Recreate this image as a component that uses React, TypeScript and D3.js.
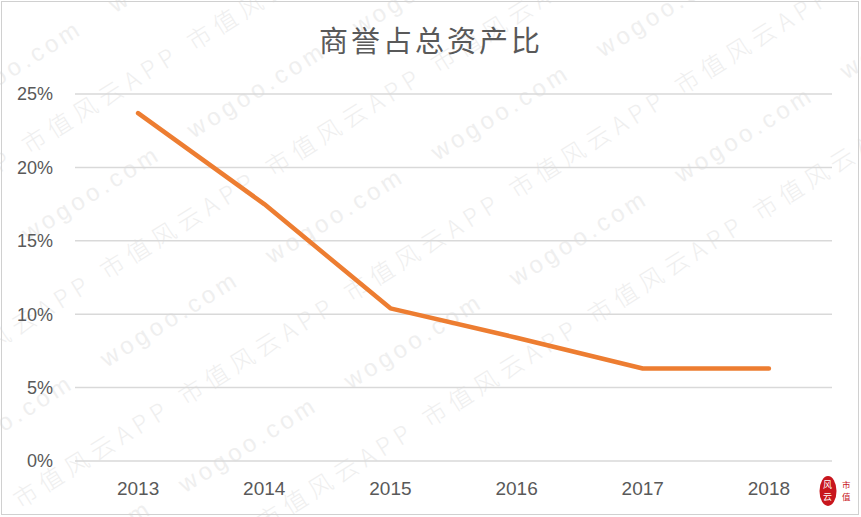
import React, { useEffect, useRef } from "react";
import * as d3 from "d3";

const years = ["2013", "2014", "2015", "2016", "2017", "2018"];
const ratio = [0.237, 0.175, 0.104, 0.084, 0.063, 0.063];
const yTicks = [0, 0.05, 0.1, 0.15, 0.2, 0.25];
const title = "商誉占总资产比";
const markA = "市值风云APP";
const markB = "wogoo.com";

const App = () => {
  const svgRef = useRef<SVGSVGElement>(null);

  useEffect(() => {
    const width = 861;
    const height = 517;
    const svg = d3.select(svgRef.current).attr("width", width).attr("height", height);
    svg.selectAll("*").remove();

    svg.append("rect").attr("width", width).attr("height", height).attr("fill", "#fff");

    // faint watermark rows, tilted
    svg.append("clipPath").attr("id", "wm-clip")
      .append("rect").attr("width", width).attr("height", height);
    const wm = svg.append("g")
      .attr("clip-path", "url(#wm-clip)")
      .append("g")
      .attr("transform", "rotate(-32)")
      .attr("pointer-events", "none");
    for (let k = -2; k < 8; k++) {
      const isB = k % 2 === 0;
      const p = 66 + 74 * k;
      const off = isB ? -25 : 33;
      for (let j = -3; j < 6; j++) {
        wm.append("text")
          .attr("x", off + 195 * j)
          .attr("y", p)
          .attr("text-anchor", "middle")
          .attr("dominant-baseline", "middle")
          .attr("font-family", isB ? "Liberation Sans, sans-serif" : "Noto Sans CJK SC, sans-serif")
          .attr("font-size", 24)
          .attr("font-weight", 300)
          .attr("letter-spacing", isB ? 4 : 6)
          .attr("fill", "#efefef")
          .text(isB ? markB : markA);
      }
    }

    svg.append("rect")
      .attr("x", 1.5).attr("y", 1.5)
      .attr("width", 857).attr("height", 513)
      .attr("fill", "none").attr("stroke", "#d0d0d0");

    const x = d3.scaleBand().domain(years).range([75, 832]);
    const y = d3.scaleLinear().domain([0, 0.25]).range([461, 94]);

    svg.append("g")
      .selectAll("line")
      .data(yTicks)
      .enter()
      .append("line")
      .attr("x1", 75).attr("x2", 832)
      .attr("y1", (d) => y(d)).attr("y2", (d) => y(d))
      .attr("stroke", "#d9d9d9").attr("stroke-width", 1.5);

    svg.append("g")
      .selectAll("text")
      .data(yTicks)
      .enter()
      .append("text")
      .attr("x", 53)
      .attr("y", (d) => y(d))
      .attr("dy", "0.35em")
      .attr("text-anchor", "end")
      .attr("font-family", "Liberation Sans, sans-serif")
      .attr("font-size", 18)
      .attr("fill", "#595959")
      .text((d) => `${Math.round(d * 100)}%`);

    svg.append("g")
      .selectAll("text")
      .data(years)
      .enter()
      .append("text")
      .attr("x", (d) => (x(d) as number) + x.bandwidth() / 2)
      .attr("y", 488)
      .attr("dy", "0.35em")
      .attr("text-anchor", "middle")
      .attr("font-family", "Liberation Sans, sans-serif")
      .attr("font-size", 19)
      .attr("fill", "#595959")
      .text((d) => d);

    const line = d3
      .line<number>()
      .x((d, i) => (x(years[i]) as number) + x.bandwidth() / 2)
      .y((d) => y(d));

    svg.append("path")
      .datum(ratio)
      .attr("d", line)
      .attr("fill", "none")
      .attr("stroke", "#ED7D31")
      .attr("stroke-width", 4.5)
      .attr("stroke-linejoin", "round")
      .attr("stroke-linecap", "round");

    svg.append("text")
      .attr("x", 431)
      .attr("y", 42)
      .attr("dy", "0.35em")
      .attr("text-anchor", "middle")
      .attr("font-family", "Noto Sans CJK SC, sans-serif")
      .attr("font-size", 29)
      .attr("letter-spacing", 3)
      .attr("fill", "#595959")
      .text(title);

    // small logo, bottom right
    const logo = svg.append("g").attr("transform", "translate(828,491)");
    logo.append("ellipse").attr("rx", 8.5).attr("ry", 15).attr("fill", "#c8161d");
    ["风", "云"].forEach((c, i) => {
      logo.append("text")
        .attr("x", -0.5).attr("y", -6 + i * 12)
        .attr("dy", "0.35em").attr("text-anchor", "middle")
        .attr("font-family", "Noto Sans CJK SC, sans-serif")
        .attr("font-size", 9).attr("fill", "#fff")
        .text(c);
    });
    ["市", "值"].forEach((c, i) => {
      logo.append("text")
        .attr("x", 14).attr("y", -6 + i * 12)
        .attr("dy", "0.35em")
        .attr("font-family", "Noto Sans CJK SC, sans-serif")
        .attr("font-size", 8.5).attr("fill", "#c8161d")
        .text(c);
    });
  }, []);

  return <svg ref={svgRef} style={{ position: "absolute", left: 0, top: 0 }}></svg>;
};

export default App;
